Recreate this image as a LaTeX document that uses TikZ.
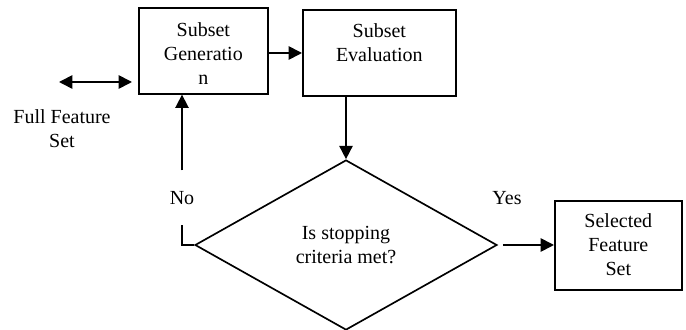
\documentclass[tikz,border=0pt]{standalone}
\usepackage{fontspec}
\setmainfont{Liberation Serif}
\usetikzlibrary{shapes.geometric,arrows.meta}
\tikzset{
  stagebox/.style={draw,align=center,inner sep=0pt},
  tip/.style={-{Triangle[length=8pt,width=8pt]}},
  bothtip/.style={{Triangle[length=8pt,width=8pt]}-{Triangle[length=8pt,width=8pt]}}
}
\begin{document}
\begin{tikzpicture}[x=0.6pt,y=-0.6pt,line width=1pt,font=\fontsize{12}{14.4}\selectfont]
  \useasboundingbox (0,0) rectangle (686,330);
  \node[stagebox,anchor=north west,text width=77.4pt,text height=17.4pt,text depth=34.2pt] (gen) at (138,7) {Subset\\Generatio\\n};
  \node[stagebox,anchor=north west,text width=91.8pt,text height=16.8pt,text depth=34.8pt] (eval) at (302,9) {Subset\\Evaluation};
  \node[stagebox,anchor=north west,text width=76.2pt,text height=16.2pt,text depth=37.2pt] (sel) at (554,200) {Selected\\Feature\\Set};
  \node[draw,diamond,aspect=1.776,minimum width=181.2pt,minimum height=102pt,inner sep=0pt,align=center] (stop) at (346,245) {Is stopping\\criteria met?};
  \node[align=center] (full) at (62,129) {Full Feature\\Set};
  \node[minimum height=32pt,inner sep=0pt] (no) at (182,198) {No};
  \node (yes) at (507,198) {Yes};
  \coordinate (fl) at (59,82);
  \coordinate (fr) at (132,82);
  \coordinate (link) at (267,53);
  \draw[bothtip] (fl) -- (fr);
  \draw[tip] (link) -- (link -| eval.west);
  \draw[tip] (eval.south -| stop.north) -- (stop.north);
  \draw (stop.west) -| (no.south);
  \draw[tip] (no.north) -- (gen.south -| no.north);
  \draw[tip,shorten <=3pt] (stop.east) -- (stop.east -| sel.west);
\end{tikzpicture}
\end{document}
